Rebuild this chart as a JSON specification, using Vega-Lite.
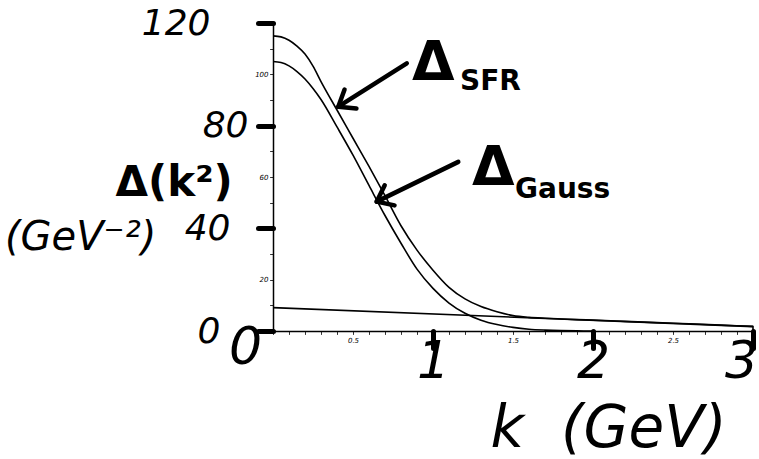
{
  "$schema": "https://vega.github.io/schema/vega-lite/v6.json",
  "width": 480,
  "height": 308,
  "autosize": {"type": "none"},
  "padding": {"left": 273, "top": 23, "right": 6, "bottom": 128},
  "background": "white",
  "config": {"view": {"stroke": null}, "font": "DejaVu Sans"},
  "datasets": {
    "curves": [
      {"series": "Gauss", "k": 0, "v": 105},
      {"series": "Gauss", "k": 0.05, "v": 104.6},
      {"series": "Gauss", "k": 0.1, "v": 103.3},
      {"series": "Gauss", "k": 0.15, "v": 101.1},
      {"series": "Gauss", "k": 0.2, "v": 98.2},
      {"series": "Gauss", "k": 0.25, "v": 94.5},
      {"series": "Gauss", "k": 0.3, "v": 90.2},
      {"series": "Gauss", "k": 0.4, "v": 79.5},
      {"series": "Gauss", "k": 0.5, "v": 68.5},
      {"series": "Gauss", "k": 0.6, "v": 56.7},
      {"series": "Gauss", "k": 0.7, "v": 45.0},
      {"series": "Gauss", "k": 0.8, "v": 34.2},
      {"series": "Gauss", "k": 0.9, "v": 24.1},
      {"series": "Gauss", "k": 1.0, "v": 16.6},
      {"series": "Gauss", "k": 1.1, "v": 10.9},
      {"series": "Gauss", "k": 1.2, "v": 6.9},
      {"series": "Gauss", "k": 1.3, "v": 4.2},
      {"series": "Gauss", "k": 1.4, "v": 2.5},
      {"series": "Gauss", "k": 1.5, "v": 1.4},
      {"series": "Gauss", "k": 1.6, "v": 0.7},
      {"series": "Gauss", "k": 1.7, "v": 0.35},
      {"series": "Gauss", "k": 1.8, "v": 0.15},
      {"series": "Gauss", "k": 1.9, "v": 0.05},
      {"series": "Gauss", "k": 2.0, "v": 0},
      {"series": "SFR", "k": 0, "v": 115},
      {"series": "SFR", "k": 0.05, "v": 114.6},
      {"series": "SFR", "k": 0.1, "v": 113.3},
      {"series": "SFR", "k": 0.15, "v": 111.0},
      {"series": "SFR", "k": 0.2, "v": 107.9},
      {"series": "SFR", "k": 0.25, "v": 103.2},
      {"series": "SFR", "k": 0.3, "v": 97.2},
      {"series": "SFR", "k": 0.4, "v": 86.1},
      {"series": "SFR", "k": 0.5, "v": 75.1},
      {"series": "SFR", "k": 0.6, "v": 64.1},
      {"series": "SFR", "k": 0.7, "v": 52.7},
      {"series": "SFR", "k": 0.8, "v": 41.0},
      {"series": "SFR", "k": 0.9, "v": 31.5},
      {"series": "SFR", "k": 1.0, "v": 23.7},
      {"series": "SFR", "k": 1.1, "v": 17.0},
      {"series": "SFR", "k": 1.2, "v": 12.5},
      {"series": "SFR", "k": 1.3, "v": 9.5},
      {"series": "SFR", "k": 1.4, "v": 7.5},
      {"series": "SFR", "k": 1.5, "v": 6.0},
      {"series": "SFR", "k": 1.6, "v": 5.3},
      {"series": "SFR", "k": 1.7, "v": 4.95},
      {"series": "SFR", "k": 1.8, "v": 4.7},
      {"series": "SFR", "k": 1.9, "v": 4.45},
      {"series": "SFR", "k": 2.0, "v": 4.25},
      {"series": "SFR", "k": 2.2, "v": 3.75},
      {"series": "SFR", "k": 2.4, "v": 3.25},
      {"series": "SFR", "k": 2.6, "v": 2.8},
      {"series": "SFR", "k": 2.8, "v": 2.3},
      {"series": "SFR", "k": 3.0, "v": 1.8}
    ],
    "flat": [
      {"i": 0, "k": 0, "v": 9.1},
      {"i": 1, "k": 3.0, "v": 1.7},
      {"i": 2, "k": 3.0, "v": 0}
    ]
  },
  "layer": [
    {
      "data": {"name": "curves"},
      "mark": {"type": "line", "color": "black", "strokeWidth": 1.6, "interpolate": "monotone", "clip": false},
      "encoding": {
        "x": {
          "field": "k", "type": "quantitative",
          "scale": {"domain": [0, 3], "nice": false, "zero": false},
          "axis": {
            "values": [0, 0.1, 0.2, 0.3, 0.4, 0.5, 0.6, 0.7, 0.8, 0.9, 1, 1.1, 1.2, 1.3, 1.4, 1.5, 1.6, 1.7, 1.8, 1.9, 2, 2.1, 2.2, 2.3, 2.4, 2.5, 2.6, 2.7, 2.8, 2.9, 3],
            "tickCount": 1000,
            "format": ".1~f",
            "labelExpr": "indexof([0, 0.5, 1, 1.5, 2, 2.5, 3], datum.value) >= 0 ? datum.label : ''",
            "grid": false,
            "domainColor": "black",
            "domainWidth": 1.5,
            "tickColor": "black",
            "tickCap": "round",
            "tickSize": {"condition": {"test": "datum.value === 1 || datum.value === 2 || datum.value === 3", "value": 17}, "value": 3},
            "tickWidth": {"condition": {"test": "datum.value === 1 || datum.value === 2 || datum.value === 3", "value": 5}, "value": 0.8},
            "labelFontSize": {"condition": {"test": "datum.value % 1 === 0", "value": 52}, "value": 7},
            "labelFontStyle": "italic",
            "labelColor": "black",
            "labelPadding": {"condition": {"test": "datum.value % 1 === 0", "value": -12}, "value": 2},
            "labelOffset": {"condition": [
              {"test": "datum.value === 0", "value": -28},
              {"test": "datum.value === 3", "value": -12}
            ], "value": 0},
            "labelFlush": false,
            "labelOverlap": false,
            "labelBound": false,
            "title": "k\u00a0\u00a0(GeV)",
            "titleFontSize": 58,
            "titleFontStyle": "italic",
            "titleFontWeight": "normal",
            "titleColor": "black",
            "titleX": 217,
            "titleY": 115,
            "titleAlign": "left",
            "titleBaseline": "alphabetic"
          }
        },
        "y": {
          "field": "v", "type": "quantitative",
          "scale": {"domain": [0, 120], "nice": false},
          "axis": {
            "values": [0, 10, 20, 30, 40, 50, 60, 70, 80, 90, 100, 110, 120],
            "tickCount": 1000,
            "format": "d",
            "labelExpr": "datum.value % 20 === 0 ? datum.label : ''",
            "grid": false,
            "domainColor": "black",
            "domainWidth": 1.5,
            "tickColor": "black",
            "tickCap": "round",
            "tickSize": {"condition": {"test": "datum.value % 40 === 0", "value": 15}, "value": 3},
            "tickWidth": {"condition": {"test": "datum.value % 40 === 0", "value": 5}, "value": 0.8},
            "labelFontSize": {"condition": {"test": "datum.value % 40 === 0", "value": 36}, "value": 7},
            "labelFontStyle": "italic",
            "labelColor": "black",
            "labelPadding": {"condition": [
              {"test": "datum.value === 120", "value": 48},
              {"test": "datum.value === 80", "value": 10},
              {"test": "datum.value === 40", "value": 28},
              {"test": "datum.value === 0", "value": 38}
            ], "value": 2},
            "labelOverlap": false,
            "labelBound": false,
            "labelFlush": false,
            "title": "Δ(k²)",
            "titleAngle": 0,
            "titleFontSize": 42,
            "titleFontWeight": "bold",
            "titleColor": "black",
            "titleX": -158,
            "titleY": 172,
            "titleAlign": "left",
            "titleBaseline": "alphabetic"
          }
        },
        "detail": {"field": "series"}
      }
    },
    {
      "data": {"name": "flat"},
      "mark": {"type": "line", "color": "black", "strokeWidth": 1.6, "clip": false},
      "encoding": {
        "x": {"field": "k", "type": "quantitative"},
        "y": {"field": "v", "type": "quantitative"},
        "order": {"field": "i"}
      }
    },
    {
      "data": {"values": [
        {"k": 0.869, "v": 97.8, "text": "Δ"},
        {"k": 1.244, "v": 56.9, "text": "Δ"}
      ]},
      "mark": {"type": "text", "align": "left", "baseline": "alphabetic", "fontSize": 55, "fontWeight": "bold", "color": "black"},
      "encoding": {
        "x": {"field": "k", "type": "quantitative"},
        "y": {"field": "v", "type": "quantitative"},
        "text": {"field": "text"}
      }
    },
    {
      "data": {"values": [
        {"k": 1.169, "v": 93.9, "text": "SFR"},
        {"k": 1.5125, "v": 51.8, "text": "Gauss"}
      ]},
      "mark": {"type": "text", "align": "left", "baseline": "alphabetic", "fontSize": 28, "fontWeight": "bold", "color": "black"},
      "encoding": {
        "x": {"field": "k", "type": "quantitative"},
        "y": {"field": "v", "type": "quantitative"},
        "text": {"field": "text"}
      }
    },
    {
      "data": {"values": [
        {"k": -1.675, "v": 31.6, "text": "(GeV⁻²)"}
      ]},
      "mark": {"type": "text", "align": "left", "baseline": "alphabetic", "fontSize": 40, "fontStyle": "italic", "color": "black"},
      "encoding": {
        "x": {"field": "k", "type": "quantitative"},
        "y": {"field": "v", "type": "quantitative"},
        "text": {"field": "text"}
      }
    },
    {
      "data": {"values": [
        {"name": "SFR", "k": 0.836, "v": 104.3, "k2": 0.408, "v2": 87.4},
        {"name": "Gauss", "k": 1.158, "v": 65.9, "k2": 0.648, "v2": 50.4}
      ]},
      "mark": {"type": "rule", "color": "black", "strokeWidth": 4.5, "strokeCap": "round"},
      "encoding": {
        "x": {"field": "k", "type": "quantitative"},
        "y": {"field": "v", "type": "quantitative"},
        "x2": {"field": "k2"},
        "y2": {"field": "v2"}
      }
    },
    {
      "data": {"values": [
        {"name": "SFR", "k2": 0.408, "v2": 87.4}
      ]},
      "mark": {"type": "point", "shape": "M -0.7 0.9 L 0 0 L 0.7 0.9", "size": 1024, "angle": 238, "filled": false, "stroke": "black", "strokeWidth": 4.5, "strokeCap": "round", "strokeJoin": "round", "opacity": 1},
      "encoding": {
        "x": {"field": "k2", "type": "quantitative"},
        "y": {"field": "v2", "type": "quantitative"}
      }
    },
    {
      "data": {"values": [
        {"name": "Gauss", "k2": 0.648, "v2": 50.4}
      ]},
      "mark": {"type": "point", "shape": "M -0.7 0.9 L 0 0 L 0.7 0.9", "size": 1024, "angle": 244, "filled": false, "stroke": "black", "strokeWidth": 4.5, "strokeCap": "round", "strokeJoin": "round", "opacity": 1},
      "encoding": {
        "x": {"field": "k2", "type": "quantitative"},
        "y": {"field": "v2", "type": "quantitative"}
      }
    }
  ]
}
